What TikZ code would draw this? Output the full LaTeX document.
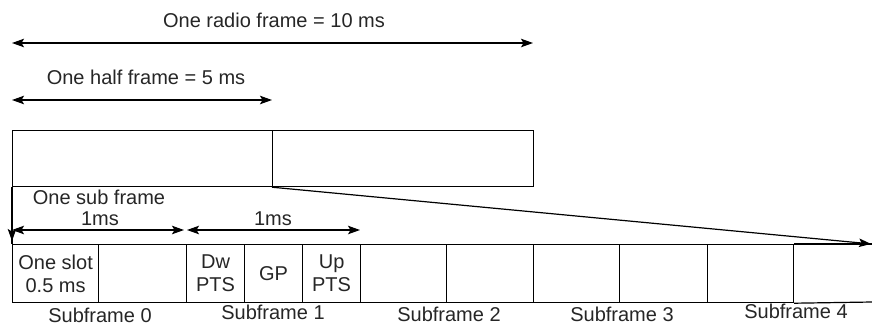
\documentclass[tikz,border=0pt]{standalone}
\usepackage{fontspec}
\setmainfont{Liberation Sans}
\usetikzlibrary{arrows.meta}
\begin{document}
\begin{tikzpicture}[x=1pt,y=-1pt,
  line width=1.2pt,
  font=\fontsize{20}{23}\selectfont,
  txt/.style={inner sep=0pt, anchor=base, text=black!85},
  box/.style={draw, rectangle, inner sep=0pt, anchor=north west, minimum height=56pt},
  cell/.style={draw, rectangle, inner sep=0pt, anchor=north west, minimum height=58pt,
               align=center, text=black!85},
  tip/.style={-{Stealth[length=12pt,width=8.5pt,inset=2.5pt]}},
  span/.style={{Stealth[length=12pt,width=8.5pt,inset=2.5pt]}-{Stealth[length=12pt,width=8.5pt,inset=2.5pt]}}]
  \useasboundingbox (0,0) rectangle (872,325);

  % radio frame and half frame spans
  \node[txt] (rflabel) at (274,27) {One radio frame = 10 ms};
  \coordinate (rfL) at (12,43);
  \coordinate (rfR) at (533,43);
  \draw[span] (rfL) -- (rfR);

  \node[txt] (hflabel) at (146,84) {One half frame = 5 ms};
  \coordinate (hfL) at (12,100);
  \coordinate (hfR) at (272,100);
  \draw[span] (hfL) -- (hfR);

  % the two half frames
  \node[box, minimum width=260pt] (h1) at (12,130) {};
  \node[box, minimum width=261pt] (h2) at (272,130) {};

  % sub frame spans
  \node[txt] (sflabel) at (99,204) {One sub frame};
  \node[txt] (sfms) at (100,225) {1ms};
  \node[txt] (sfms2) at (273,225) {1ms};
  \coordinate (sfA) at (12,230);
  \coordinate (sfB) at (184,230);
  \coordinate (sfC) at (187,230);
  \coordinate (sfD) at (360,230);
  \draw[span] (sfA) -- (sfB);
  \draw[span] (sfC) -- (sfD);

  % slot row
  \node[cell, minimum width=86pt] (s0a) at (12,244) {One slot\\0.5 ms};
  \node[cell, minimum width=88pt] (s0b) at (98,244) {};
  \node[cell, minimum width=58pt] (dw) at (186,244) {Dw\\PTS};
  \node[cell, minimum width=58pt] (gp) at (244,244) {GP};
  \node[cell, minimum width=58pt] (up) at (302,244) {Up\\PTS};
  \node[cell, minimum width=86pt] (s2a) at (360,244) {};
  \node[cell, minimum width=87pt] (s2b) at (446,244) {};
  \node[cell, minimum width=86pt] (s3a) at (533,244) {};
  \node[cell, minimum width=88pt] (s3b) at (619,244) {};
  \node[cell, minimum width=86pt] (s4a) at (707,244) {};
  \coordinate (endT) at (872,244);
  \coordinate (endB) at (872,302);
  \draw (s4a.north east) -- (endT);
  \draw (s4a.south east) -- (endB);

  % subframe captions
  \node[txt] (c0) at (100,322) {Subframe 0};
  \node[txt] (c1) at (273,319) {Subframe 1};
  \node[txt] (c2) at (449,321) {Subframe 2};
  \node[txt] (c3) at (622,321) {Subframe 3};
  \node[txt] (c4) at (796,318) {Subframe 4};

  % expansion of the second half frame
  \draw[tip, shorten >=1pt] (h2.south west) -- (endT);
  \draw (h1.south west) -- (s0a.north west);
  \draw[tip, shorten >=3pt] (h1.south west) -- (s0a.north west);
\end{tikzpicture}
\end{document}
